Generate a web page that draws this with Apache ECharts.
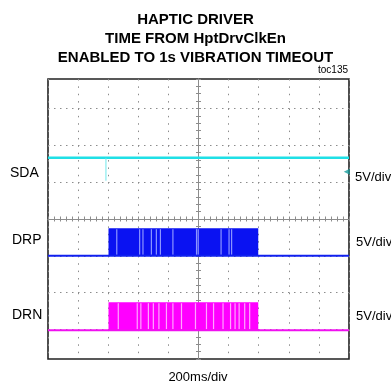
<!DOCTYPE html>
<html>
<head>
<meta charset="utf-8">
<script src="https://cdn.jsdelivr.net/npm/echarts@6/dist/echarts.min.js"></script>
<style>
  html, body { margin: 0; padding: 0; background: #fff; }
  #chart { width: 391px; height: 387px; }
</style>
</head>
<body>
<div id="chart"></div>
<script>
// time in ms relative to screen centre, level in divisions (centre = 0)
const TITLE_LINES = ['HAPTIC DRIVER', 'TIME FROM HptDrvClkEn', 'ENABLED TO 1s VIBRATION TIMEOUT'];
const CHANNELS = ['SDA', 'DRP', 'DRN'];
const SCALES = ['5V/div', '5V/div', '5V/div'];
const TIME_LABEL = '200ms/div';

const sdaTrace = [[-1000, 1.66], [1000, 1.66]];
const sdaGlitch = [[-615, 1.66], [-615, 1.04]];
const sdaMarker = [[985, 1.28]];

const drpTrace = [[-1000, -1.0], [1000, -1.0]];
const drpBurst = [[-598, 397, -1.0, -0.25]];   // start, end, low, high
const drpGaps = [-543, -391, -369, -313, -280, -253, -170, -13, -2, 150, 203, 220];

const drnTrace = [[-1000, -3.02], [1000, -3.02]];
const drnBurst = [[-598, 397, -3.02, -2.26]];
const drnGaps = [-533, -407, -383, -333, -300, -263, -213, -170, -113, -20, 53, 100, 163, 213, 243, 270, 307, 340];

const GRID_GRAY = '#8c8c8c';
const FONT = 'Liberation Sans, Arial, sans-serif';

const chart = echarts.init(document.getElementById('chart'), null, { renderer: 'canvas' });

function burstSeries(data, color) {
    return {
        type: 'custom',
        silent: true,
        data: data,
        renderItem: (params, api) => {
            const a = api.coord([api.value(0), api.value(3)]);
            const b = api.coord([api.value(1), api.value(2)]);
            return {
                type: 'rect',
                shape: { x: a[0], y: a[1], width: b[0] - a[0], height: b[1] - a[1] },
                style: { fill: color }
            };
        }
    };
}

function gapSeries(times, low, high, color) {
    return {
        type: 'custom',
        silent: true,
        data: times.map(t => [t, low, high]),
        renderItem: (params, api) => {
            const a = api.coord([api.value(0), api.value(2)]);
            const b = api.coord([api.value(0), api.value(1)]);
            return {
                type: 'line',
                shape: { x1: a[0], y1: a[1] + 1, x2: b[0], y2: b[1] - 1 },
                style: { stroke: color, lineWidth: 1.2 }
            };
        }
    };
}

function traceSeries(data, color, width) {
    return {
        type: 'line',
        data: data,
        symbol: 'none',
        silent: true,
        lineStyle: { color: color, width: width },
        animation: false
    };
}

function text(str, x, y, size, align, weight) {
    return {
        type: 'text',
        x: x, y: y,
        style: {
            text: str, fill: '#000',
            font: (weight || 'normal') + ' ' + size + 'px ' + FONT,
            textAlign: align || 'left', textVerticalAlign: 'middle'
        }
    };
}

const centreAxis = (pos) => ({
    type: 'value', min: -1000, max: 1000, interval: 200, position: pos,
    axisLine: { show: true, onZero: true, onZeroAxisIndex: 0, lineStyle: { color: GRID_GRAY, width: 1 } },
    axisTick: { show: true, length: 2.5, lineStyle: { color: GRID_GRAY } },
    minorTick: { show: true, splitNumber: 5, length: 2.5, lineStyle: { color: GRID_GRAY } },
    axisLabel: { show: false },
    splitLine: { show: false }
});

const centreYAxis = (pos, split) => ({
    type: 'value', min: -3.8, max: 3.8, interval: 0.2, position: pos,
    axisLine: { show: true, onZero: true, onZeroAxisIndex: 0, lineStyle: { color: GRID_GRAY, width: 1 } },
    axisTick: { show: true, length: 2.5, lineStyle: { color: GRID_GRAY } },
    axisLabel: { show: false },
    splitLine: split ? {
        show: true,
        lineStyle: { color: ['transparent', 'transparent', 'transparent', 'transparent', GRID_GRAY], type: [1.5, 4.5], width: 1 }
    } : { show: false }
});

const xMain = centreAxis('bottom');
xMain.splitLine = { show: true, lineStyle: { color: GRID_GRAY, type: [1.5, 5.87], width: 1 } };

chart.setOption({
    animation: false,
    backgroundColor: '#fff',
    title: {
        text: TITLE_LINES.join('\n'),
        left: 'center',
        top: 6,
        textStyle: { fontFamily: FONT, fontSize: 15, fontWeight: 'bold', lineHeight: 18.6, color: '#000' }
    },
    grid: {
        left: 48, right: 42, top: 79, bottom: 28,
        show: true, borderColor: '#222', borderWidth: 1.6,
        outerBoundsMode: 'none'
    },
    xAxis: [xMain, centreAxis('top')],
    yAxis: [centreYAxis('left', true), centreYAxis('right', false)],
    graphic: [
        text('toc135', 333, 70, 10, 'center'),
        text(CHANNELS[0], 10, 173, 14),
        text(CHANNELS[1], 12, 240, 14),
        text(CHANNELS[2], 12, 315, 14),
        text(SCALES[0], 355, 177, 13),
        text(SCALES[1], 356, 242, 13),
        text(SCALES[2], 356, 316, 13),
        text(TIME_LABEL, 198, 377, 13, 'center')
    ],
    series: [
        traceSeries(sdaTrace, '#1fe0e6', 2.5),
        traceSeries(sdaGlitch, '#6fe8ec', 1),
        {
            type: 'scatter', data: sdaMarker, symbol: 'triangle', symbolRotate: 90,
            symbolSize: 6, itemStyle: { color: '#169c9c' }, silent: true
        },
        traceSeries(drpTrace, '#1020f0', 2),
        burstSeries(drpBurst, '#0a12f2'),
        gapSeries(drpGaps, -1.0, -0.25, '#8c96ff'),
        traceSeries(drnTrace, '#f010f0', 2),
        burstSeries(drnBurst, '#ff00ff'),
        gapSeries(drnGaps, -3.02, -2.26, '#ffa6ff')
    ]
});
</script>
</body>
</html>
